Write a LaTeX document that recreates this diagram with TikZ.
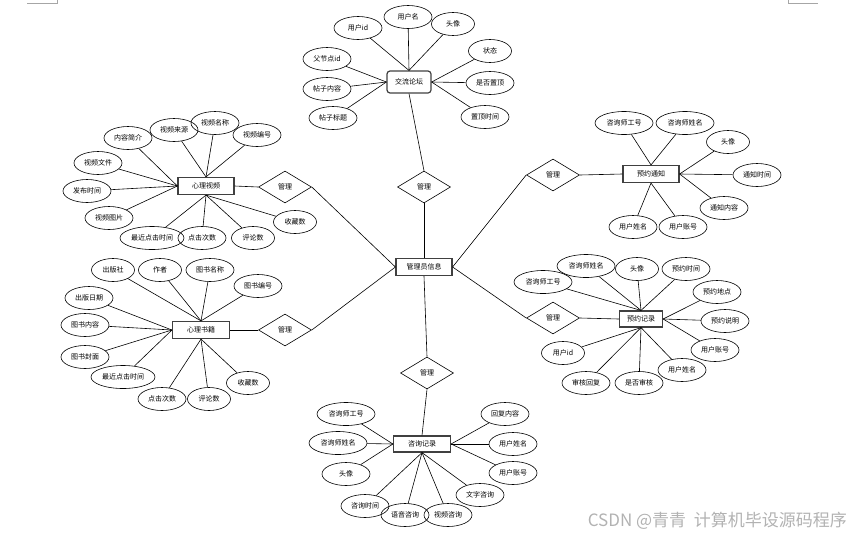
\documentclass[tikz,border=0pt]{standalone}
\usepackage{fontspec}
\setmainfont{Noto Sans CJK SC}
\usetikzlibrary{shapes.geometric}
\tikzset{
  attr/.style={ellipse, draw, line width=0.6pt, minimum width=48pt, minimum height=23pt, inner sep=0pt, font=\fontsize{7}{8}\selectfont},
  sattr/.style={attr, minimum width=43pt},
  wattr/.style={attr, minimum width=58pt},
  xattr/.style={attr, minimum width=64pt},
  ent/.style={rectangle, draw=black!75, line width=1.2pt, minimum width=56pt, minimum height=17pt, inner sep=0pt, font=\fontsize{7}{8}\selectfont},
  rel/.style={diamond, draw, line width=0.6pt, minimum width=53pt, minimum height=32pt, inner sep=0pt, aspect=1.66, font=\fontsize{7}{8}\selectfont},
  conn/.style={line width=0.6pt},
  pagemark/.style={draw=black!35, line width=0.6pt}
}
\begin{document}
\begin{tikzpicture}[x=1pt,y=-1pt]
\useasboundingbox (0,0) rectangle (851,536);
% page corner marks
\coordinate (ml1) at (27,3); \coordinate (ml2) at (57,3); \coordinate (ml3) at (57,0);
\coordinate (mr1) at (788,0); \coordinate (mr2) at (788,3); \coordinate (mr3) at (818,3);
\draw[pagemark] (ml1) -- (ml2) -- (ml3);
\draw[pagemark] (mr1) -- (mr2) -- (mr3);

% center
\node[ent] (admin) at (424,267) {管理员信息};

% forum
\node[ent, rounded corners=3pt, minimum width=44pt, minimum height=22pt] (forum) at (409,82) {交流论坛};
\node[attr] (f1) at (358,28) {用户id};
\node[attr] (f2) at (408,17) {用户名};
\node[sattr] (f3) at (453,24) {头像};
\node[sattr] (f4) at (490,51) {状态};
\node[attr] (f5) at (490,83) {是否置顶};
\node[attr] (f6) at (485,117) {置顶时间};
\node[attr] (f7) at (327,59) {父节点id};
\node[attr] (f8) at (327,89) {帖子内容};
\node[attr] (f9) at (333,118) {帖子标题};
\foreach \n in {f1,f2,f3} \draw[conn] (\n) -- (forum.north);
\foreach \n in {f4,f5,f6} \draw[conn] (\n) -- (forum.east);
\foreach \n in {f7,f8,f9} \draw[conn] (\n) -- (forum.west);
\node[rel] (rF) at (424,187) {管理};
\draw[conn] (forum.south) -- (rF.north);
\draw[conn] (rF.south) -- (admin.north);

% video
\node[ent] (vid) at (206,186) {心理视频};
\node[attr] (v1) at (128,138) {内容简介};
\node[attr] (v2) at (174,130) {视频来源};
\node[attr] (v3) at (215,123) {视频名称};
\node[attr] (v4) at (257,135) {视频编号};
\node[attr] (v5) at (98,163) {视频文件};
\node[attr] (v6) at (87,191) {发布时间};
\node[attr] (v7) at (109,218) {视频图片};
\node[xattr] (v8) at (152,238) {最近点击时间};
\node[attr] (v9) at (202,238) {点击次数};
\node[sattr] (v10) at (253,238) {评论数};
\node[sattr] (v11) at (295,222) {收藏数};
\foreach \n in {v2,v3,v4} \draw[conn] (\n) -- (vid.north);
\foreach \n in {v1,v5,v6,v7} \draw[conn] (\n) -- (vid.west);
\foreach \n in {v8,v9,v10,v11} \draw[conn] (\n) -- (vid.south);
\node[rel] (rV) at (285,187) {管理};
\draw[conn] (vid.east) -- (rV.west);
\draw[conn] (rV.east) -- (admin.west);

% books
\node[ent, minimum width=57pt] (book) at (201,330) {心理书籍};
\node[sattr] (b1) at (113,270) {出版社};
\node[sattr] (b2) at (160,270) {作者};
\node[attr] (b3) at (210,270) {图书名称};
\node[attr] (b4) at (258,286) {图书编号};
\node[attr] (b5) at (89,298) {出版日期};
\node[attr] (b6) at (85,325) {图书内容};
\node[attr] (b7) at (85,357) {图书封面};
\node[xattr] (b8) at (123,377) {最近点击时间};
\node[attr] (b9) at (162,399) {点击次数};
\node[sattr] (b10) at (209,399) {评论数};
\node[sattr] (b11) at (248,383) {收藏数};
\foreach \n in {b1,b2,b3,b4} \draw[conn] (\n) -- (book.north);
\foreach \n in {b5,b6,b7,b8} \draw[conn] (\n) -- (book.west);
\foreach \n in {b9,b10,b11} \draw[conn] (\n) -- (book.south);
\node[rel] (rB) at (285,330) {管理};
\draw[conn] (book.east) -- (rB.west);
\draw[conn] (rB.east) -- (admin.west);

% consultation records
\node[ent, minimum width=57pt, minimum height=16pt] (cons) at (422,444) {咨询记录};
\node[wattr] (c1) at (346,414) {咨询师工号};
\node[wattr] (c2) at (338,443) {咨询师姓名};
\node[attr] (c3) at (346,474) {头像};
\node[attr] (c4) at (365,506) {咨询时间};
\node[attr] (c5) at (405,515) {语音咨询};
\node[attr] (c6) at (448,515) {视频咨询};
\node[attr] (c7) at (480,495) {文字咨询};
\node[attr] (c8) at (513,473) {用户账号};
\node[attr] (c9) at (513,444) {用户姓名};
\node[attr] (c10) at (505,414) {回复内容};
\foreach \n in {c1,c2,c3} \draw[conn] (\n) -- (cons.west);
\foreach \n in {c4,c5,c6,c7} \draw[conn] (\n) -- (cons.south);
\foreach \n in {c8,c9,c10} \draw[conn] (\n) -- (cons.east);
\node[rel] (rC) at (427,373) {管理};
\draw[conn] (admin.south) -- (rC.north);
\draw[conn] (rC.south) -- (cons.north);

% appointment notice
\node[ent] (note) at (651,174) {预约通知};
\node[wattr] (n1) at (624,123) {咨询师工号};
\node[wattr] (n2) at (685,123) {咨询师姓名};
\node[sattr] (n3) at (728,142) {头像};
\node[attr] (n4) at (757,175) {通知时间};
\node[attr] (n5) at (724,208) {通知内容};
\node[attr] (n6) at (683,227) {用户账号};
\node[attr] (n7) at (633,227) {用户姓名};
\foreach \n in {n1,n2} \draw[conn] (\n) -- (note.north);
\foreach \n in {n3,n4,n5} \draw[conn] (\n) -- (note.east);
\foreach \n in {n6,n7} \draw[conn] (\n) -- (note.south);
\node[rel] (rN) at (553,175) {管理};
\draw[conn] (note.west) -- (rN.east);
\draw[conn] (rN.west) -- (admin.east);

% appointment records
\node[ent, minimum width=43pt, minimum height=16pt] (resv) at (641,319) {预约记录};
\node[wattr] (r1) at (543,282) {咨询师工号};
\node[wattr] (r2) at (586,266) {咨询师姓名};
\node[sattr] (r3) at (637,269) {头像};
\node[attr] (r4) at (686,269) {预约时间};
\node[attr] (r5) at (717,292) {预约地点};
\node[attr] (r6) at (725,321) {预约说明};
\node[attr] (r7) at (715,350) {用户账号};
\node[attr] (r8) at (682,370) {用户姓名};
\node[attr] (r9) at (639,383) {是否审核};
\node[attr] (r10) at (586,383) {审核回复};
\node[sattr] (r11) at (563,353) {用户id};
\foreach \n in {r1,r2,r3,r4} \draw[conn] (\n) -- (resv.north);
\foreach \n in {r5,r6,r7} \draw[conn] (\n) -- (resv.east);
\foreach \n in {r8,r9,r10,r11} \draw[conn] (\n) -- (resv.south);
\node[rel] (rR) at (553,318) {管理};
\draw[conn] (resv.west) -- (rR.east);
\draw[conn] (rR.west) -- (admin.east);

% watermark
\node[anchor=east, inner sep=0pt, text=black!30, font=\fontsize{17}{19}\selectfont] (wm) at (847,521) {CSDN @青青\ \ 计算机毕设源码程序};
\end{tikzpicture}
\end{document}
